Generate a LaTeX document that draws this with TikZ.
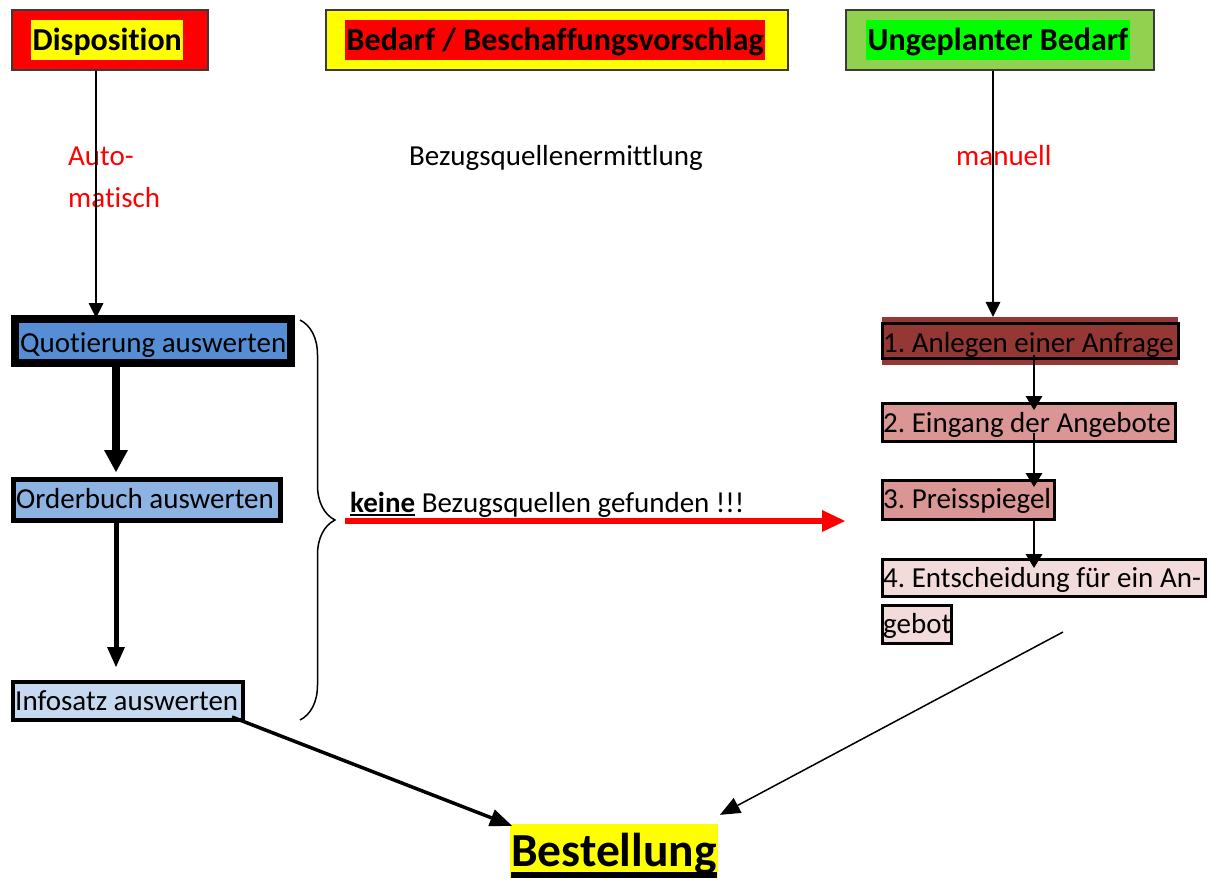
\documentclass[tikz,border=0pt]{standalone}
\usepackage{fontspec}
\setmainfont{Carlito}[Ligatures=NoCommon]
\usetikzlibrary{arrows.meta,decorations.pathreplacing,calc}
\frenchspacing

\definecolor{hlred}{HTML}{FF0000}
\definecolor{hlyellow}{HTML}{FFFF00}
\definecolor{boxgreen}{HTML}{92D050}
\definecolor{hlgreen}{HTML}{00FF00}
\definecolor{framegray}{HTML}{3A3A3A}
\definecolor{quotblue}{HTML}{558ED5}
\definecolor{orderblue}{HTML}{8DB3E2}
\definecolor{infoblue}{HTML}{C6D9F1}
\definecolor{darkrose}{HTML}{953735}
\definecolor{rose}{HTML}{D99694}
\definecolor{lightrose}{HTML}{F2DCDB}

% underlined word with a rule of given drop and thickness
\newcommand\ulword[3]{\setbox0\hbox{#1}\rlap{\rule[-#2]{\wd0}{#3}}\box0{}}

\tikzset{
  body/.style={font=\fontsize{29}{35}\selectfont},
  titlefont/.style={font=\fontsize{32}{38}\selectfont\bfseries},
  titlebox/.style={draw=framegray, line width=2pt, inner sep=0pt, minimum height=60pt},
  titlehl/.style={anchor=base west, inner xsep=1.5pt, inner ysep=0pt,
    text height=31pt, text depth=9pt, titlefont},
  txt/.style={anchor=base west, inner sep=0pt, body},
  stepbox/.style={draw=black, inner sep=0pt},
  thinarr/.style={line width=1.5pt, -{Triangle[width=15pt,length=15pt,line width=0pt]}},
}

\begin{document}
\begin{tikzpicture}[x=1pt,y=1pt]
\useasboundingbox (0,0) rectangle (1212,-880);

% --- headers ---
\node[titlebox, fill=hlred, minimum width=196pt] (dispo) at (110,-40) {};
\node[titlehl, fill=hlyellow] (dispot) at (31,-51) {Disposition};

\node[titlebox, fill=hlyellow, minimum width=462pt] (bedarf) at (557,-40) {};
\node[titlehl, fill=hlred] (bedarft) at (345,-51) {Bedarf / Beschaffungsvorschlag};

\node[titlebox, fill=boxgreen, minimum width=308pt] (ungep) at (1000,-40) {};
\node[titlehl, fill=hlgreen] (ungept) at (866,-51) {Ungeplanter Bedarf};

% --- middle labels ---
\node[txt, text=red] (auto1) at (68,-165) {Auto-};
\node[txt, text=red] (auto2) at (68,-207) {matisch};
\node[txt] (bqe) at (409,-165) {Bezugsquellenermittlung};
\node[txt, text=red] (manu) at (956,-165) {manuell};

% --- left column ---
\node[stepbox, line width=8pt, fill=quotblue, minimum width=276pt, minimum height=44pt] (qbox) at (153,-341) {};
\node[txt] (qtext) at (20,-352) {Quotierung auswerten};

\node[stepbox, line width=5pt, fill=orderblue, minimum width=267pt, minimum height=41pt] (obox) at (147,-500) {};
\node[txt] (otext) at (16,-508) {Orderbuch auswerten};

\node[stepbox, line width=4pt, fill=infoblue, minimum width=230pt, minimum height=38pt] (ibox) at (128,-701) {};
\node[txt] (itext) at (15,-710) {Infosatz auswerten};

% --- right column ---
\node[fill=darkrose, inner sep=0pt, minimum width=296pt, minimum height=48pt] (hl1) at (1030,-341) {};
\node[stepbox, line width=3pt, fill=darkrose, minimum width=296pt, minimum height=35pt] (b1) at (1030.5,-341) {};
\node[txt] (t1) at (883,-352) {1. Anlegen einer Anfrage};

\node[stepbox, line width=3pt, fill=rose, minimum width=293pt, minimum height=38pt] (b2) at (1029,-422.5) {};
\node[txt] (t2) at (883,-432) {2. Eingang der Angebote};

\node[stepbox, line width=3pt, fill=rose, minimum width=172pt, minimum height=39pt] (b3) at (968.5,-500) {};
\node[txt] (t3) at (883,-508) {3. Preisspiegel};

\node[stepbox, line width=3pt, fill=lightrose, minimum width=323pt, minimum height=37pt] (b4) at (1044,-578) {};
\node[txt] (t4) at (883,-587) {4. Entscheidung für ein An-};

\node[stepbox, line width=3pt, fill=lightrose, minimum width=69pt, minimum height=38pt] (b5) at (917,-624.5) {};
\node[txt] (t5) at (883,-633) {gebot};

% --- result ---
\node[anchor=base west, fill=hlyellow, inner xsep=1pt, inner ysep=0pt, text height=42pt, text depth=12pt,
      font=\fontsize{47.5}{56}\selectfont\bfseries] (best) at (510,-866) {\ulword{Bestellung}{12pt}{6pt}};

% --- helper coordinates ---
\coordinate (lx) at (96,0);
\coordinate (lc) at (116,0);
\coordinate (rx) at (993,0);
\coordinate (rc) at (1034,0);
\coordinate (rs) at (345,-521);
\coordinate (re) at (845,-521);
\coordinate (diagstart) at (1063,-632);

% --- connectors ---
\draw[thinarr] (dispo.south -| lx) -- ([yshift=-3pt]qbox.north -| lx);
\draw[thinarr] (ungep.south -| rx) -- (hl1.north -| rx);

\draw[line width=8pt, -{Triangle[width=24pt,length=22pt,line width=0pt]}]
  (qbox.south -| lc) -- ([yshift=5pt]obox.north -| lc);
\draw[line width=5pt, -{Triangle[width=18pt,length=20pt,line width=0pt]}]
  (obox.south -| lc) -- ([yshift=13pt]ibox.north -| lc);

\draw[line width=1.5pt, -{Triangle[width=17pt,length=14pt,line width=0pt]}]
  ([yshift=5pt]b1.south -| rc) -- ([yshift=-8pt]b2.north -| rc);
\draw[line width=1.5pt, -{Triangle[width=17pt,length=14pt,line width=0pt]}]
  ([yshift=10pt]b2.south -| rc) -- ([yshift=-8pt]b3.north -| rc);
\draw[line width=1.5pt, -{Triangle[width=17pt,length=14pt,line width=0pt]}]
  (b3.south -| rc) -- ([yshift=-10pt]b4.north -| rc);

\draw[line width=3.5pt, -{Triangle[width=18pt,length=22pt,line width=0pt]}]
  ([xshift=-13pt,yshift=5pt]ibox.south east) -- ([xshift=2pt,yshift=-2pt]best.north west);
\draw[line width=1.5pt, -{Triangle[width=17pt,length=20pt,line width=0pt]}]
  (diagstart) -- ([xshift=2pt,yshift=9pt]best.north east);

% --- brace and "no source" arrow ---
\draw[line width=1.5pt, decorate, decoration={brace, amplitude=35pt}] (300,-320) -- (300,-720);
\draw[red, line width=6pt, -{Triangle[width=22pt,length=23pt,line width=0pt]}] (rs) -- (re);
\node[txt] (keine) at (350,-512) {\ulword{\textbf{keine}}{3.5pt}{2pt} Bezugsquellen gefunden !!!};

\end{tikzpicture}
\end{document}
